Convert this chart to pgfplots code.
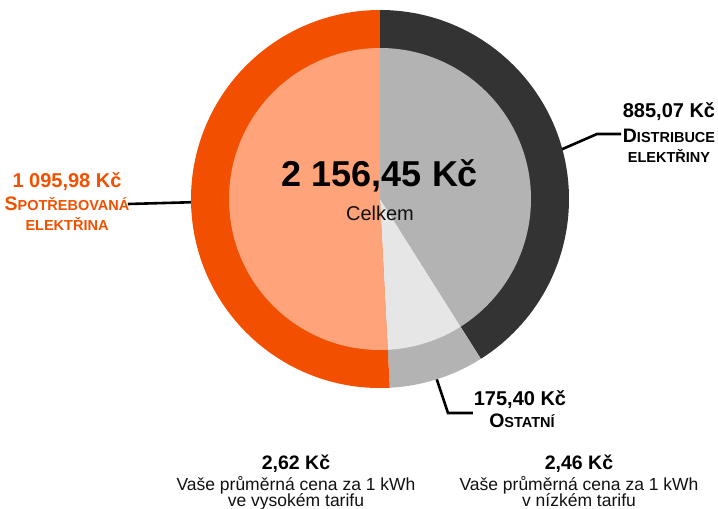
\documentclass[border=0pt]{standalone}
\usepackage{pgfplots}
\pgfplotsset{compat=1.18}
\usepackage{pgfplotstable}
\usepackage{fontspec}
\setmainfont{Liberation Sans}
\definecolor{cOrange}{HTML}{F25000}
\definecolor{cSalmon}{HTML}{FFA47A}
\definecolor{cDark}{HTML}{333333}
\definecolor{cGray}{HTML}{B3B3B3}
\definecolor{cLight}{HTML}{E6E6E6}
\definecolor{cText}{HTML}{111111}
\newcommand\bigc[1]{{\fontsize{19.5}{22}\selectfont #1}}
\newcommand\smc[1]{{\fontsize{14.5}{16}\selectfont #1}}

\pgfplotstableread{
part value
Distribuce 885.07
Ostatni 175.40
Spotrebovana 1095.98
}\piedata

\begin{document}
\begin{tikzpicture}[x=1pt,y=1pt]
\pgfplotstablegetelem{0}{value}\of\piedata \pgfmathsetmacro\vA{\pgfplotsretval/100}
\pgfplotstablegetelem{1}{value}\of\piedata \pgfmathsetmacro\vB{\pgfplotsretval/100}
\pgfplotstablegetelem{2}{value}\of\piedata \pgfmathsetmacro\vC{\pgfplotsretval/100}
\pgfmathsetmacro\tot{\vA+\vB+\vC}
\pgfmathsetmacro\aA{90-360*(\vA/\tot)}
\pgfmathsetmacro\aB{\aA-360*(\vB/\tot)}
\begin{axis}[hide axis, scale only axis, x=1pt, y=1pt,
  xmin=-380, xmax=338, ymin=-310, ymax=199, clip=false,
  anchor=origin, at={(0,0)}]
\coordinate (BL) at (axis cs:-380,-310);
\coordinate (TR) at (axis cs:338,199);
% leader lines
\draw[line width=2.6pt, black] (axis cs:-252,-5) -- (axis cs:-180,-3);
\draw[line width=2.6pt, black, line join=miter] (axis cs:178,48) -- (axis cs:217,65) -- (axis cs:241,65);
\draw[line width=2.6pt, black, line join=miter] (axis cs:55,-175) -- (axis cs:68,-214) -- (axis cs:93,-214);
% outer ring (full slices)
\fill[cDark] (axis cs:0,0) -- (axis cs:0,189) arc[start angle=90, end angle=\aA, radius=189pt] -- cycle;
\fill[cGray] (axis cs:0,0) -- ({189*cos(\aA)},{189*sin(\aA)}) arc[start angle=\aA, end angle=\aB, radius=189pt] -- cycle;
\fill[cOrange] (axis cs:0,0) -- ({189*cos(\aB)},{189*sin(\aB)}) arc[start angle=\aB, end angle=-270, radius=189pt] -- cycle;
% inner pie
\fill[cGray] (axis cs:0,0) -- (axis cs:0,151) arc[start angle=90, end angle=\aA, radius=151pt] -- cycle;
\fill[cLight] (axis cs:0,0) -- ({151*cos(\aA)},{151*sin(\aA)}) arc[start angle=\aA, end angle=\aB, radius=151pt] -- cycle;
\fill[cSalmon] (axis cs:0,0) -- ({151*cos(\aB)},{151*sin(\aB)}) arc[start angle=\aB, end angle=-270, radius=151pt] -- cycle;
% centre
\node[anchor=base, text=black, font=\bfseries\fontsize{36}{40}\selectfont] at (axis cs:0,13) {2 156,45 Kč};
\node[anchor=base, text=cText, font=\fontsize{20}{24}\selectfont] at (axis cs:0,-21) {Celkem};
% labels
\node[anchor=base, text=cOrange, font=\bfseries\fontsize{20}{24}\selectfont] at (axis cs:-313,12) {1 095,98 Kč};
\node[anchor=base, text=cOrange, font=\bfseries] at (axis cs:-313,-11) {\bigc{S}\smc{POTŘEBOVANÁ}};
\node[anchor=base, text=cOrange, font=\bfseries] at (axis cs:-313,-31) {\smc{ELEKTŘINA}};
\node[anchor=base, text=black, font=\bfseries\fontsize{20}{24}\selectfont] at (axis cs:289,82) {885,07 Kč};
\node[anchor=base, text=black, font=\bfseries] at (axis cs:289,57) {\bigc{D}\smc{ISTRIBUCE}};
\node[anchor=base, text=black, font=\bfseries] at (axis cs:289,37) {\smc{ELEKTŘINY}};
\node[anchor=base, text=black, font=\bfseries\fontsize{20}{24}\selectfont] at (axis cs:140,-206) {175,40 Kč};
\node[anchor=base, text=black, font=\bfseries] at (axis cs:142,-228) {\bigc{O}\smc{STATNÍ}};
% bottom
\node[anchor=base, text=black, font=\bfseries\fontsize{19.5}{23}\selectfont] at (axis cs:-84,-270) {2,62 Kč};
\node[anchor=base, text=cText, font=\fontsize{17.5}{21}\selectfont] at (axis cs:-84,-291) {Vaše průměrná cena za 1 kWh};
\node[anchor=base, text=cText, font=\fontsize{17.5}{21}\selectfont] at (axis cs:-84,-307) {ve vysokém tarifu};
\node[anchor=base, text=black, font=\bfseries\fontsize{19.5}{23}\selectfont] at (axis cs:199,-270) {2,46 Kč};
\node[anchor=base, text=cText, font=\fontsize{17.5}{21}\selectfont] at (axis cs:199,-291) {Vaše průměrná cena za 1 kWh};
\node[anchor=base, text=cText, font=\fontsize{17.5}{21}\selectfont] at (axis cs:199,-307) {v nízkém tarifu};
\end{axis}
\pgfresetboundingbox
\useasboundingbox (BL) rectangle (TR);
\end{tikzpicture}
\end{document}
